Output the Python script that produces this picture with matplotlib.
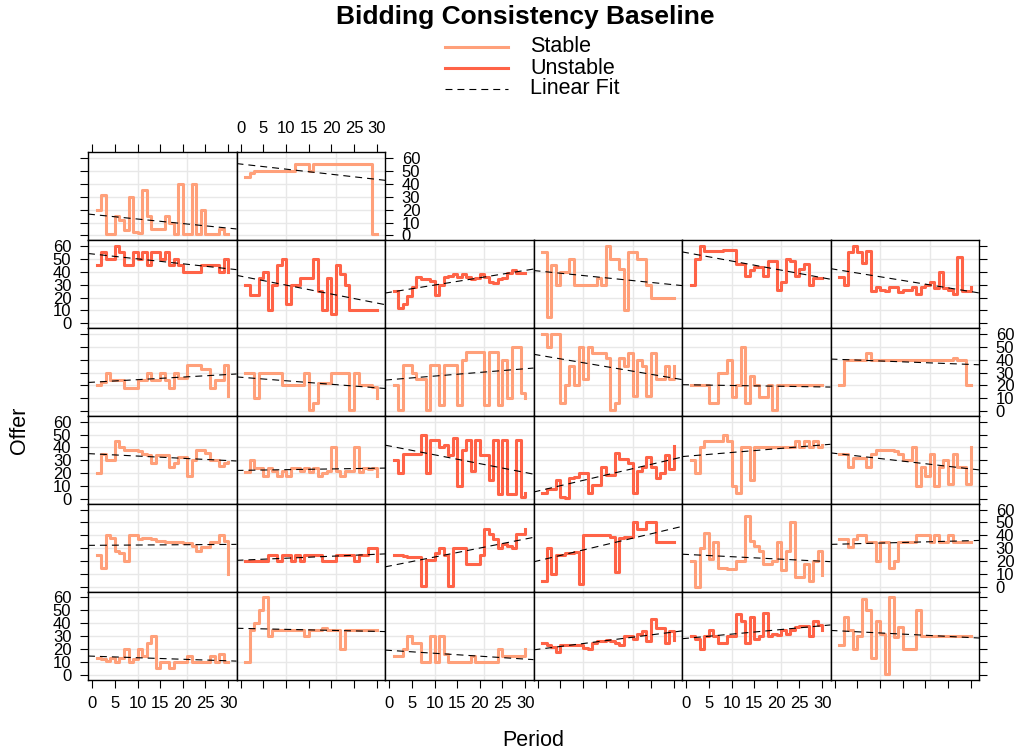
import numpy as np
import matplotlib.pyplot as plt
from matplotlib.lines import Line2D

plt.rcParams['font.family'] = ['Liberation Sans', 'DejaVu Sans']
plt.rcParams['lines.scale_dashes'] = False

period = np.arange(1, 31)

# offers per panel, rows from top to bottom, columns left to right
r1c1 = [20, 31, 1, 1, 15, 12, 4, 30, 3, 2, 35, 15, 5, 5, 5, 15, 10, 1, 40, 1, 1, 40, 1, 20, 1, 1, 1, 5, 1, 1]
r1c2 = [45, 48, 50, 50, 50, 50, 50, 50, 50, 50, 50, 55, 55, 55, 50, 55, 55, 55, 55, 55, 55, 55, 55, 55, 55, 55, 55, 55, 1, 1]

r2c1 = [45, 55, 50, 50, 60, 55, 45, 45, 55, 50, 55, 45, 55, 55, 50, 55, 45, 50, 45, 40, 40, 40, 40, 45, 45, 45, 45, 40, 50, 40]
r2c2 = [30, 22, 22, 35, 40, 10, 30, 45, 50, 15, 30, 30, 35, 35, 35, 50, 25, 10, 35, 7, 45, 38, 30, 10, 10, 10, 10, 10, 10, 10]
r2c3 = [25, 12, 15, 21, 28, 36, 34, 34, 33, 22, 30, 36, 37, 38, 36, 38, 36, 34, 35, 38, 36, 32, 31, 34, 35, 39, 41, 39, 39, 39]
r2c4 = [55, 5, 45, 30, 40, 40, 50, 30, 30, 30, 30, 30, 35, 30, 60, 50, 50, 42, 10, 55, 55, 50, 50, 30, 20, 20, 20, 20, 20, 20]
r2c5 = [30, 50, 60, 56, 56, 56, 56, 57, 57, 57, 46, 46, 37, 41, 44, 44, 37, 48, 48, 26, 32, 50, 48, 37, 42, 46, 30, 35, 35, 35]
r2c6 = [36, 30, 55, 60, 55, 47, 56, 25, 28, 26, 25, 28, 28, 24, 26, 26, 28, 23, 28, 30, 32, 27, 40, 27, 26, 23, 51, 25, 25, 28]

r3c1 = [20, 23, 30, 24, 24, 24, 18, 18, 18, 24, 24, 30, 24, 24, 30, 24, 18, 30, 26, 26, 36, 36, 36, 33, 33, 18, 24, 24, 36, 12]
r3c2 = [30, 30, 10, 30, 30, 30, 30, 30, 20, 20, 20, 20, 20, 30, 1, 6, 22, 22, 22, 30, 30, 30, 30, 1, 30, 20, 20, 20, 19, 10]
r3c3 = [20, 1, 36, 36, 30, 25, 25, 1, 36, 36, 5, 36, 36, 36, 5, 40, 46, 46, 46, 46, 5, 46, 46, 5, 40, 10, 50, 50, 14, 10]
r3c4 = [60, 50, 60, 60, 6, 20, 35, 20, 50, 25, 50, 45, 45, 45, 41, 1, 6, 41, 35, 45, 12, 40, 35, 12, 45, 25, 25, 35, 25, 35]
r3c5 = [20, 20, 20, 20, 6, 6, 30, 30, 40, 11, 20, 50, 6, 27, 20, 11, 11, 20, 1, 20, 20, 20, 20, 20, 20, 20, 20, 20, 20, 20]
r3c6 = [20, 40, 40, 40, 40, 40, 45, 40, 40, 40, 40, 40, 40, 40, 40, 40, 40, 40, 40, 40, 40, 40, 40, 40, 40, 41, 40, 40, 20, 20]

r4c1 = [20, 35, 30, 30, 45, 40, 38, 38, 38, 37, 35, 34, 28, 34, 34, 34, 25, 28, 33, 33, 18, 30, 38, 38, 36, 30, 30, 26, 28, 29]
r4c2 = [21, 30, 24, 24, 18, 24, 22, 18, 22, 18, 24, 24, 22, 24, 21, 24, 18, 20, 22, 40, 22, 18, 22, 22, 40, 21, 24, 23, 24, 18]
r4c3 = [30, 20, 35, 35, 35, 35, 50, 20, 46, 46, 40, 42, 34, 47, 10, 38, 46, 22, 46, 34, 34, 15, 46, 4, 46, 4, 4, 46, 2, 5]
r4c4 = [5, 8, 8, 15, 2, 1, 16, 17, 20, 20, 5, 11, 11, 25, 19, 19, 36, 31, 31, 28, 5, 22, 25, 33, 25, 16, 20, 34, 23, 41]
r4c5 = [30, 20, 40, 45, 45, 45, 45, 50, 45, 10, 5, 40, 40, 15, 40, 40, 40, 40, 40, 40, 40, 40, 40, 45, 40, 45, 40, 45, 40, 42]
r4c6 = [35, 35, 25, 32, 32, 32, 25, 35, 38, 38, 38, 38, 37, 35, 30, 30, 40, 10, 25, 18, 35, 10, 25, 30, 12, 35, 25, 25, 12, 40]

r5c1 = [25, 15, 40, 38, 28, 26, 20, 40, 40, 37, 38, 38, 37, 36, 36, 35, 35, 35, 35, 34, 34, 32, 28, 31, 31, 35, 35, 40, 36, 10]
r5c2 = [20, 20, 20, 20, 20, 25, 25, 20, 25, 25, 20, 25, 20, 25, 25, 25, 25, 20, 20, 20, 25, 25, 25, 25, 20, 25, 25, 30, 30, 20]
r5c3 = [25, 25, 24, 23, 23, 23, 1, 21, 21, 26, 30, 25, 1, 30, 30, 30, 18, 18, 18, 25, 45, 41, 37, 30, 33, 32, 30, 41, 41, 45]
r5c4 = [5, 30, 10, 25, 25, 26, 26, 27, 2, 40, 40, 40, 40, 40, 40, 39, 12, 38, 39, 39, 50, 45, 45, 50, 50, 35, 35, 35, 35, 35]
r5c5 = [20, 0, 30, 42, 22, 35, 15, 15, 14, 14, 20, 20, 55, 36, 32, 28, 18, 18, 20, 35, 13, 28, 50, 8, 8, 18, 5, 20, 28, 9]
r5c6 = [37, 37, 31, 37, 40, 40, 35, 35, 20, 35, 35, 15, 20, 35, 35, 35, 35, 40, 40, 40, 35, 40, 35, 35, 40, 35, 35, 35, 35, 35]

r6c1 = [13, 12, 11, 13, 10, 13, 20, 10, 12, 20, 15, 25, 30, 5, 10, 10, 5, 10, 10, 10, 15, 10, 10, 10, 10, 15, 10, 16, 10, 10]
r6c2 = [10, 35, 40, 50, 60, 30, 35, 35, 35, 35, 35, 35, 35, 30, 35, 35, 35, 36, 35, 35, 35, 20, 35, 35, 35, 35, 35, 35, 35, 35]
r6c3 = [15, 15, 20, 30, 25, 25, 10, 10, 30, 10, 30, 16, 10, 10, 10, 10, 10, 15, 10, 10, 10, 10, 10, 20, 15, 15, 15, 15, 15, 20]
r6c4 = [25, 23, 22, 18, 23, 23, 23, 23, 23, 21, 20, 25, 26, 26, 27, 26, 25, 23, 30, 30, 28, 32, 34, 26, 43, 36, 36, 25, 34, 27]
r6c5 = [30, 28, 20, 30, 35, 30, 25, 25, 30, 30, 47, 42, 25, 45, 28, 30, 48, 30, 32, 31, 35, 32, 35, 37, 38, 38, 30, 42, 39, 35]
r6c6 = [23, 45, 35, 20, 30, 59, 50, 13, 42, 32, 1, 60, 29, 37, 20, 20, 20, 50, 30, 30, 30, 30, 30, 30, 30, 30, 30, 30, 30, 30]

# (row, col, group, offers)
panels = [
    (0, 0, 'Stable', r1c1), (0, 1, 'Stable', r1c2),
    (1, 0, 'Unstable', r2c1), (1, 1, 'Unstable', r2c2), (1, 2, 'Unstable', r2c3),
    (1, 3, 'Stable', r2c4), (1, 4, 'Unstable', r2c5), (1, 5, 'Unstable', r2c6),
    (2, 0, 'Stable', r3c1), (2, 1, 'Stable', r3c2), (2, 2, 'Stable', r3c3),
    (2, 3, 'Stable', r3c4), (2, 4, 'Stable', r3c5), (2, 5, 'Stable', r3c6),
    (3, 0, 'Stable', r4c1), (3, 1, 'Stable', r4c2), (3, 2, 'Unstable', r4c3),
    (3, 3, 'Unstable', r4c4), (3, 4, 'Stable', r4c5), (3, 5, 'Stable', r4c6),
    (4, 0, 'Stable', r5c1), (4, 1, 'Unstable', r5c2), (4, 2, 'Unstable', r5c3),
    (4, 3, 'Unstable', r5c4), (4, 4, 'Stable', r5c5), (4, 5, 'Stable', r5c6),
    (5, 0, 'Stable', r6c1), (5, 1, 'Stable', r6c2), (5, 2, 'Stable', r6c3),
    (5, 3, 'Unstable', r6c4), (5, 4, 'Unstable', r6c5), (5, 5, 'Stable', r6c6),
]

colors = {'Stable': 'lightsalmon', 'Unstable': 'tomato'}

W, H = 1021, 756
fig = plt.figure(figsize=(W / 100, H / 100), dpi=100)
left0, top0, pw, ph = 88, 152.3, 148.5, 87.9
xlim = (-0.95, 31.85)
ylim = (-3.7, 64.4)

for row, col, grp, y in panels:
    ax = fig.add_axes([(left0 + col * pw) / W, 1 - (top0 + (row + 1) * ph) / H, pw / W, ph / H])
    ax.set_xlim(xlim)
    ax.set_ylim(ylim)
    for v in range(0, 61, 10):
        ax.axhline(v, color='#e8e8e8', lw=1, zorder=0)
    for f in (1 / 3, 2 / 3):
        ax.axvline(xlim[0] + f * (xlim[1] - xlim[0]), color='#e8e8e8', lw=1, zorder=0)
    ax.plot(period, y, drawstyle='steps-post', color=colors[grp], lw=2.2, zorder=2)
    slope, icpt = np.polyfit(period, y, 1)
    xs = np.array(xlim)
    ax.plot(xs, icpt + slope * xs, color='black', lw=0.8, dashes=(5, 3.6), zorder=3)

    ax.set_xticks(range(0, 31, 5))
    ax.set_yticks(range(0, 61, 10))
    on_bottom = row == 5
    on_top = row == 0
    on_left = col == 0
    on_right = col == (1 if row == 0 else 5)
    ax.tick_params(axis='x', bottom=on_bottom, top=on_top,
                   labelbottom=on_bottom and col % 2 == 0,
                   labeltop=on_top and col % 2 == 1,
                   direction='out', length=6, width=0.8, labelsize=12, pad=6)
    ax.tick_params(axis='y', left=on_left, right=on_right,
                   labelleft=on_left and row % 2 == 1,
                   labelright=on_right and row % 2 == 0,
                   direction='out', length=6, width=0.8, labelsize=12, pad=6)
    for s in ax.spines.values():
        s.set_linewidth(1.0)

fig.text(525 / W, 1 - 17 / H, 'Bidding Consistency Baseline', ha='center', va='center',
         fontsize=19, fontweight='bold')

legend_items = [('Stable', colors['Stable'], '-', 2.2, 47),
                ('Unstable', colors['Unstable'], '-', 2.2, 68),
                ('Linear Fit', 'black', '--', 0.8, 89)]
for lab, c, ls, lw, yy in legend_items:
    ln = Line2D([445 / W, 508 / W], [1 - yy / H, 1 - yy / H], transform=fig.transFigure,
                color=c, lw=lw, linestyle=ls)
    if ls == '--':
        ln.set_dashes((5, 3.6))
    fig.add_artist(ln)
    fig.text(530 / W, 1 - yy / H, lab, ha='left', va='center', fontsize=15.5)

fig.text(20 / W, 1 - 430 / H, 'Offer', rotation=90, ha='center', va='center', fontsize=15.5)
fig.text(533 / W, 1 - 740 / H, 'Period', ha='center', va='center', fontsize=15.5)

fig.savefig('out.png', dpi=100)
